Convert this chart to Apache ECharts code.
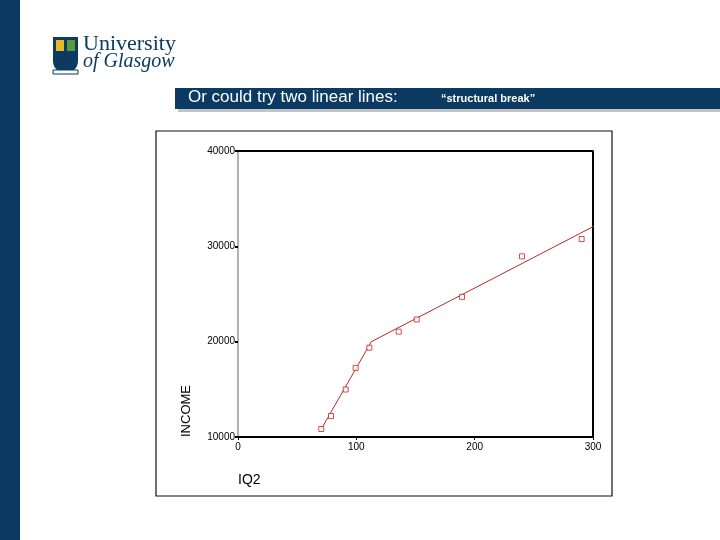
<!DOCTYPE html>
<html><head><meta charset="utf-8">
<script src="https://cdn.jsdelivr.net/npm/echarts@6/dist/echarts.min.js"></script>
<style>html,body{margin:0;padding:0;background:#fff}#c{width:720px;height:540px}</style>
</head><body><div id="c"></div>
<script>
const iq = [70.4, 78.6, 91, 99.4, 111, 135.8, 151, 189.3, 240, 290.4];
const income = [10840, 12200, 14980, 17250, 19370, 21050, 22330, 24700, 28950, 30770];
const fit1 = [[70.4, 10840], [112.7, 20000]];
const fit2 = [[112.7, 20000], [305.9, 32440]];
const xTicks = [0, 100, 200, 300];
const yTicks = [10000, 20000, 30000, 40000];

const chart = echarts.init(document.getElementById('c'));
const red = '#cc2222', line = '#b52a2a';
chart.setOption({
  animation: false,
  graphic: [
    {type:'rect', shape:{x:0,y:0,width:20,height:540}, style:{fill:'#0b3a63'}},
    {type:'rect', shape:{x:178,y:92,width:542,height:20}, style:{fill:'#8a8a8a', opacity:0.5}},
    {type:'rect', shape:{x:175,y:88,width:545,height:21}, style:{fill:'#0b3a63'}},
    {type:'text', left:188, top:89, style:{text:'Or could try two linear lines:', fill:'#fff', font:'17px "Liberation Sans", Arial'}},
    {type:'text', left:441, top:93, style:{text:'“structural break”', fill:'#fff', font:'bold 11px "Liberation Sans", Arial'}},
    // logo
    {type:'rect', shape:{x:53,y:37,width:25,height:36,r:[0,0,12,12]}, style:{fill:'#0b3a63'}},
    {type:'rect', shape:{x:56,y:40,width:8,height:11}, style:{fill:'#e9b923'}},
    {type:'rect', shape:{x:67,y:40,width:8,height:11}, style:{fill:'#5a9a3a'}},
    {type:'rect', shape:{x:53,y:70,width:25,height:4}, style:{fill:'#fff', stroke:'#0b3a63', lineWidth:1}},
    {type:'text', left:83, top:33, style:{text:'University', fill:'#0b3a63', font:'22px "Liberation Serif", "DejaVu Serif", serif'}},
    {type:'text', left:83, top:52, style:{text:'of Glasgow', fill:'#0b3a63', font:'italic 20px "Liberation Serif", "DejaVu Serif", serif'}},
    // chart frame
    {type:'rect', shape:{x:156,y:131,width:456,height:365}, style:{fill:'none', stroke:'#111', lineWidth:1.2}},
    {type:'text', left:238, top:473, style:{text:'IQ2', fill:'#000', font:'14px "Liberation Sans", Arial'}},
    {type:'text', x:193, y:437, rotation:Math.PI/2, style:{text:'INCOME', fill:'#000', font:'13px "Liberation Sans", Arial', align:'left', verticalAlign:'bottom'}}
  ],
  grid: {left:238, right:127, top:151, bottom:103},
  xAxis: {type:'value', min:0, max:300, interval:100,
    axisLine:{lineStyle:{color:'#000', width:2}}, axisTick:{show:true, length:3, lineStyle:{color:'#000'}},
    axisLabel:{color:'#000', fontSize:10, fontFamily:'Liberation Sans', margin:5, showMaxLabel:true},
    splitLine:{show:false}},
  yAxis: {type:'value', min:10000, max:40000, interval:10000,
    axisLine:{show:true, lineStyle:{color:'#999', width:1.5}}, axisTick:{show:true, length:3, lineStyle:{color:'#000', width:2}},
    axisLabel:{color:'#000', fontSize:10, fontFamily:'Liberation Sans', margin:3, formatter:v=>String(v)},
    splitLine:{show:false}},
  series: [
    {type:'line', data:[[0,40000],[300,40000],[300,10000]], symbol:'none', lineStyle:{color:'#000', width:2}, silent:true},
    {type:'line', data:fit1, symbol:'none', clip:false, lineStyle:{color:line, width:1}},
    {type:'line', data:fit2, symbol:'none', clip:false, lineStyle:{color:line, width:1}},
    {type:'scatter', data:iq.map((v,i)=>[v,income[i]]), symbol:'rect', symbolSize:5,
      itemStyle:{color:'#fff', borderColor:red, borderWidth:1}, z:5}
  ]
});
</script></body></html>
